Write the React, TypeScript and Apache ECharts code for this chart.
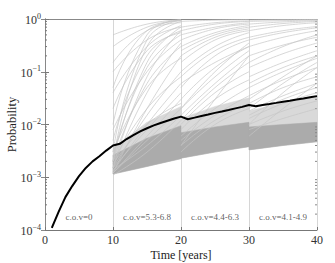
import React, { useEffect, useRef } from "react";
import * as echarts from "echarts";

const FONT = "Liberation Serif";

// x values for the three gray segments (start, middle, end)
const seg1T = [10, 15, 20];
const seg2T = [20, 25, 30];
const seg3T = [30, 35, 40];

// sparse gray trajectories: [start, mid, end]
const seg1Lines: number[][] = [
  [2e-3, 0.3, 0.9], [3e-3, 0.4, 0.95], [1e-2, 0.5, 0.95], [0.05, 0.6, 0.92],
  [0.15, 0.6, 0.85], [0.3, 0.7, 0.95], [1.5e-3, 0.08, 0.6], [2e-3, 0.15, 0.7],
  [5e-3, 0.2, 0.6], [0.02, 0.25, 0.55], [1.5e-3, 0.04, 0.35], [2e-3, 0.06, 0.3],
  [1.2e-3, 0.02, 0.2], [3e-3, 0.05, 0.18], [1.5e-3, 0.015, 0.1], [2e-3, 0.02, 0.08],
  [1.3e-3, 0.01, 0.06], [1.5e-3, 0.008, 0.04], [1.2e-3, 0.006, 0.03], [1.8e-3, 0.01, 0.025],
  [1.2e-3, 0.005, 0.02], [1.4e-3, 0.004, 0.015], [0.1, 0.4, 0.7], [0.008, 0.1, 0.4],
  [0.04, 0.3, 0.75], [1.1e-3, 0.003, 0.012], [0.5, 0.8, 0.97], [2.5e-3, 0.12, 0.5],
];
const seg2Lines: number[][] = [
  [0.9, 0.95, 0.97], [0.6, 0.8, 0.9], [0.4, 0.65, 0.8], [0.25, 0.5, 0.7],
  [0.15, 0.4, 0.6], [0.08, 0.25, 0.45], [0.05, 0.2, 0.4], [0.03, 0.12, 0.3],
  [0.02, 0.08, 0.25], [0.012, 0.05, 0.15], [0.01, 0.04, 0.1], [0.008, 0.03, 0.07],
  [0.006, 0.02, 0.05], [0.005, 0.015, 0.035], [0.004, 0.012, 0.025], [0.7, 0.85, 0.92],
  [0.3, 0.55, 0.75], [0.1, 0.3, 0.55], [0.02, 0.1, 0.35], [0.004, 0.03, 0.2],
  [0.003, 0.01, 0.02], [0.5, 0.7, 0.85], [0.2, 0.45, 0.65], [0.06, 0.15, 0.3],
  [0.015, 0.06, 0.2],
];
const seg3Lines: number[][] = [
  [0.95, 0.97, 0.98], [0.8, 0.88, 0.93], [0.6, 0.75, 0.85], [0.45, 0.6, 0.72],
  [0.3, 0.45, 0.6], [0.2, 0.32, 0.45], [0.12, 0.22, 0.35], [0.08, 0.15, 0.25],
  [0.05, 0.1, 0.18], [0.035, 0.07, 0.12], [0.025, 0.05, 0.08], [0.018, 0.035, 0.06],
  [0.013, 0.025, 0.04], [0.01, 0.018, 0.028], [0.008, 0.013, 0.02], [0.7, 0.82, 0.9],
  [0.15, 0.3, 0.5], [0.02, 0.06, 0.15], [0.01, 0.04, 0.12], [0.006, 0.02, 0.06],
  [0.4, 0.55, 0.68], [0.06, 0.12, 0.2], [0.03, 0.08, 0.2], [0.9, 0.93, 0.96],
  [0.015, 0.03, 0.05],
];

// dense bundle of trajectories: lower / upper envelopes
const seg1Lower = [1.15e-3, 1.6e-3, 2.25e-3];
const seg1Upper = [2.6e-3, 5.5e-3, 9.5e-3];
const seg1Halo = [3.5e-3, 1.1e-2, 2.2e-2];
const seg2Lower = [2.3e-3, 3.0e-3, 3.8e-3];
const seg2Upper = [7e-3, 9e-3, 1.1e-2];
const seg2Halo = [1.3e-2, 2.2e-2, 3.2e-2];
const seg3Lower = [3.3e-3, 4.0e-3, 4.7e-3];
const seg3Upper = [9e-3, 1.0e-2, 1.1e-2];
const seg3Halo = [1.8e-2, 2.6e-2, 3.6e-2];

// mean (black) curve
const meanT = [1, 2, 3, 4, 5, 6, 7, 8, 9, 10, 11, 12, 13, 14, 15, 16, 17, 18, 19, 20,
  21, 22, 23, 24, 25, 26, 27, 28, 29, 30, 31, 32, 33, 34, 35, 36, 37, 38, 39, 40];
const meanP = [1.1e-4, 2.2e-4, 4.2e-4, 6.8e-4, 1.05e-3, 1.5e-3, 2e-3, 2.5e-3, 3.2e-3, 4e-3,
  4.3e-3, 5.3e-3, 6.3e-3, 7.4e-3, 8.5e-3, 9.6e-3, 0.0107, 0.0118, 0.013, 0.0141,
  0.0126, 0.0135, 0.0145, 0.0155, 0.0166, 0.0177, 0.0189, 0.0202, 0.0216, 0.0235,
  0.0222, 0.0234, 0.0245, 0.0257, 0.027, 0.0283, 0.0297, 0.0312, 0.0328, 0.0345];

const covX = [5, 15, 25, 35];
const covY = 1.8e-4;
const covLabels = ["c.o.v=0", "c.o.v=5.3-6.8", "c.o.v=4.4-6.3", "c.o.v=4.1-4.9"];

const minorTicks: number[] = [];
[1e-4, 1e-3, 1e-2, 1e-1].forEach((d) => {
  for (let k = 2; k <= 9; k++) minorTicks.push(d * k);
});

function bandSeries(t: number[], lo: number[], hi: number[], fill: string) {
  return {
    type: "custom",
    xAxisIndex: 0,
    yAxisIndex: 0,
    silent: true,
    data: [[t[0], lo[0]]],
    renderItem: (_p: any, api: any) => {
      const pts: number[][] = [];
      for (let i = 0; i < t.length; i++) pts.push(api.coord([t[i], lo[i]]));
      for (let i = t.length - 1; i >= 0; i--) pts.push(api.coord([t[i], hi[i]]));
      return { type: "polygon", shape: { points: pts }, style: { fill, stroke: fill, lineWidth: 0.5 } };
    },
  };
}

function lineSeries(t: number[], lines: number[][]) {
  return lines.map((l) => ({
    type: "line",
    xAxisIndex: 0,
    yAxisIndex: 0,
    data: l.map((v, i) => [t[i], v]),
    smooth: 0.5,
    showSymbol: false,
    silent: true,
    lineStyle: { color: "#c6c6c6", width: 0.7 },
  }));
}

export default function App() {
  const ref = useRef<HTMLDivElement>(null);
  useEffect(() => {
    if (!ref.current) return;
    document.body.style.margin = "0";
    const chart = echarts.init(ref.current, null, { renderer: "svg" });
    const labelFmt = (v: number) => {
      const e = Math.round(Math.log10(v));
      return `{b|10}{s|${e < 0 ? "\u2212" + -e : e}}`;
    };
    chart.setOption({
      animation: false,
      grid: { left: 45, right: 18, top: 19, bottom: 33, outerBoundsMode: "none", containLabel: false },
      xAxis: [
        {
          type: "value", min: 0, max: 40, interval: 10,
          name: "Time [years]", nameLocation: "middle", nameGap: 19, nameMoveOverlap: false,
          nameTextStyle: { fontFamily: FONT, fontSize: 12, lineHeight: 12, color: "#222" },
          axisLine: { lineStyle: { color: "#777", width: 1 } },
          axisTick: { inside: true, length: 3, lineStyle: { color: "#777" } },
          axisLabel: { fontFamily: FONT, fontSize: 12, color: "#333", margin: 4 },
          splitLine: { show: true, lineStyle: { color: "#d6d6d6", width: 1 } },
        },
        {
          type: "value", min: 0, max: 40, interval: 10, position: "top",
          axisLine: { show: true, lineStyle: { color: "#888", width: 1 } },
          axisTick: { show: false },
          axisLabel: { show: false },
          splitLine: { show: false },
        },
      ],
      yAxis: [
        {
          type: "log", logBase: 10, min: 1e-4, max: 1,
          name: "Probability", nameLocation: "middle", nameGap: 27, nameMoveOverlap: false,
          nameTextStyle: { fontFamily: FONT, fontSize: 12.5, color: "#222" },
          axisLine: { show: true, lineStyle: { color: "#777", width: 1 } },
          axisTick: { inside: true, length: 4, lineStyle: { color: "#777" } },
          axisLabel: {
            formatter: labelFmt, margin: 4,
            rich: {
              b: { fontFamily: FONT, fontSize: 12, color: "#333", lineHeight: 14, verticalAlign: "bottom" },
              s: { fontFamily: FONT, fontSize: 8, color: "#333", lineHeight: 9, padding: [0, 0, 7, 0], verticalAlign: "top" },
            },
          },
          splitLine: { show: false },
        },
        {
          type: "log", logBase: 10, min: 1e-4, max: 1, position: "right",
          axisLine: { show: true, lineStyle: { color: "#888", width: 1 } },
          axisTick: { inside: true, length: 4, lineStyle: { color: "#888" } },
          axisLabel: { show: false },
          splitLine: { show: false },
        },
      ],
      series: [
        bandSeries(seg1T, seg1Lower, seg1Halo, "#d9d9d9"),
        bandSeries(seg2T, seg2Lower, seg2Halo, "#d9d9d9"),
        bandSeries(seg3T, seg3Lower, seg3Halo, "#d9d9d9"),
        ...lineSeries(seg1T, seg1Lines),
        ...lineSeries(seg2T, seg2Lines),
        ...lineSeries(seg3T, seg3Lines),
        bandSeries(seg1T, seg1Lower, seg1Upper, "#ababab"),
        bandSeries(seg2T, seg2Lower, seg2Upper, "#ababab"),
        bandSeries(seg3T, seg3Lower, seg3Upper, "#ababab"),
        {
          type: "custom", xAxisIndex: 0, yAxisIndex: 0, silent: true,
          data: minorTicks.map((v) => [0, v]),
          renderItem: (_p: any, api: any) => {
            const a = api.coord([0, api.value(1)]);
            const b = api.coord([40, api.value(1)]);
            return {
              type: "group",
              children: [
                { type: "line", shape: { x1: a[0], y1: a[1], x2: a[0] + 2, y2: a[1] }, style: { stroke: "#777", lineWidth: 1 } },
                { type: "line", shape: { x1: b[0], y1: b[1], x2: b[0] - 2, y2: b[1] }, style: { stroke: "#888", lineWidth: 1 } },
              ],
            };
          },
        },
        {
          type: "line", xAxisIndex: 0, yAxisIndex: 0,
          data: meanT.map((t, i) => [t, meanP[i]]),
          showSymbol: false, silent: true,
          lineStyle: { color: "#000", width: 2 },
        },
        {
          type: "scatter", xAxisIndex: 0, yAxisIndex: 0, silent: true,
          symbolSize: 0,
          data: covX.map((x) => [x, covY]),
          label: {
            show: true, position: "inside",
            formatter: (p: any) => covLabels[p.dataIndex],
            fontFamily: FONT, fontSize: 9, color: "#333",
          },
        },
      ],
    });
    return () => chart.dispose();
  }, []);
  return <div ref={ref} style={{ width: 335, height: 263 }} />;
}
